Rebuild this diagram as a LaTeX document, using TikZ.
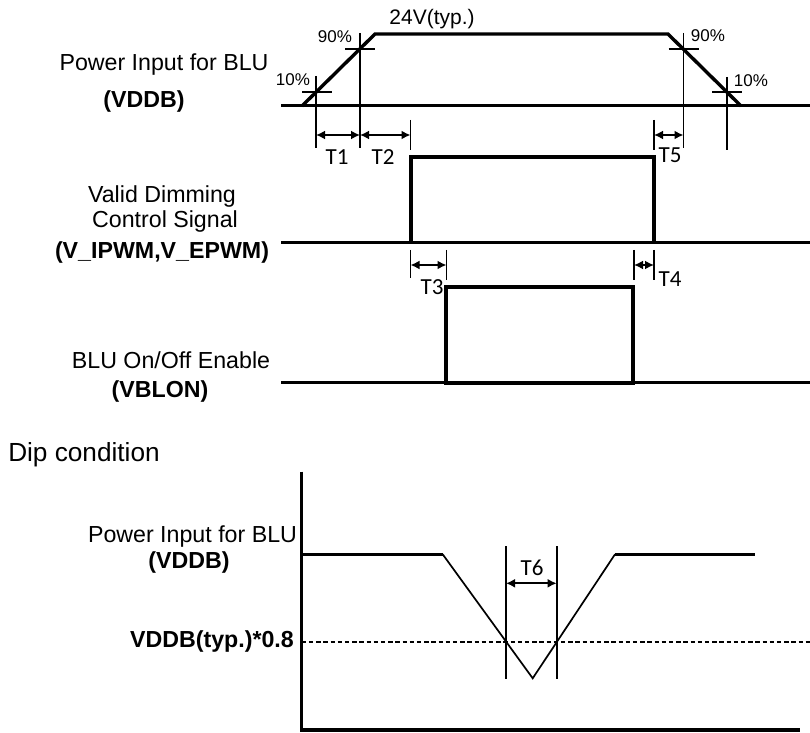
\documentclass[tikz,border=0pt]{standalone}
\usepackage{fontspec}
\setmainfont{Liberation Sans}
\newfontfamily\tfont{Carlito}
\usetikzlibrary{arrows.meta}
\begin{document}
\begin{tikzpicture}[x=0.5pt,y=-0.5pt,
  sig/.style={line width=1.5pt},
  pulse/.style={line width=2pt},
  thin/.style={line width=0.85pt},
  dimarrow/.style={line width=1.1pt,{Latex[length=4.5pt,width=4.5pt]}-{Latex[length=4.5pt,width=4.5pt]}},
  lab/.style={inner sep=0pt,font=\fontsize{11.6}{13}\selectfont},
  blab/.style={inner sep=0pt,font=\fontsize{11.6}{13}\selectfont\bfseries},
  pct/.style={inner sep=0pt,font=\fontsize{8.5}{10}\selectfont},
  tlab/.style={inner sep=0pt,font=\tfont\fontsize{11.5}{13}\selectfont}]
\useasboundingbox (0,0) rectangle (810,733);

% ---------- Power input (VDDB) ----------
\coordinate (pA) at (281,106);
\coordinate (pB) at (810,106);
\coordinate (pR0) at (302,106);
\coordinate (pR1) at (375,34);
\coordinate (pF0) at (668,34);
\coordinate (pF1) at (741,106);
\draw[sig] (pA) -- (pB);
\draw[line width=1.7pt] (pR0) -- (pR1) -- (pF0) -- (pF1);

% crosses
\draw[thin] (302,92) -- (332,92);
\draw[thin] (316,76) -- (316,148);
\draw[thin] (345,49) -- (375,49);
\draw[thin] (360,33) -- (360,148);
\draw[thin] (668.5,49) -- (698.5,49);
\draw[thin] (683.5,33) -- (683.5,148);
\draw[thin] (712,92) -- (742,92);
\draw[thin] (727,77) -- (727,150);
\draw[thin] (410.5,120) -- (410.5,150);
\draw[thin] (654,120) -- (654,150);

\coordinate (d1a) at (316,135);
\coordinate (d1b) at (360,135);
\coordinate (d2b) at (410.5,135);
\coordinate (d5a) at (654,135);
\coordinate (d5b) at (683.5,135);
\draw[dimarrow] (d1a) -- (d1b);
\draw[dimarrow] (d1b) -- (d2b);
\draw[dimarrow] (d5a) -- (d5b);

\node[pct] (p10a) at (293,80) {10\%};
\node[pct] (p90a) at (335,37) {90\%};
\node[pct] (p90b) at (708,36) {90\%};
\node[pct] (p10b) at (751,81) {10\%};
\node[inner sep=0pt,font=\fontsize{10.5}{12}\selectfont] (typ) at (432,19) {24V(typ.)};
\node[tlab] (t1) at (337,157) {T1};
\node[tlab] (t2) at (383,157) {T2};
\node[tlab] (t5) at (670,155) {T5};

\node[lab] (l1) at (164,65) {Power Input for BLU};
\node[blab] (l1b) at (144,101.5) {(VDDB)};

% ---------- Dimming signal ----------
\coordinate (dA) at (281,243);
\coordinate (dB) at (810,243);
\draw[sig] (dA) -- (dB);
\coordinate (dp0) at (410.5,243);
\coordinate (dp1) at (410.5,157.5);
\coordinate (dp2) at (654,157.5);
\coordinate (dp3) at (654,243);
\draw[pulse] (dp0) -- (dp1) -- (dp2) -- (dp3);

\draw[thin] (410.5,250) -- (410.5,278);
\draw[thin] (446.5,250) -- (446.5,280);
\draw[thin] (634,250) -- (634,280);
\draw[thin] (654,250) -- (654,280);
\coordinate (d3a) at (410.5,265);
\coordinate (d3b) at (446.5,265);
\coordinate (d4a) at (634,265);
\coordinate (d4b) at (654,265);
\draw[dimarrow] (d3a) -- (d3b);
\draw[dimarrow] (d4a) -- (d4b);
\node[tlab] (t3) at (432,287) {T3};
\node[tlab] (t4) at (670,279) {T4};

\node[lab] (l2a) at (162,197) {Valid Dimming};
\node[lab] (l2b) at (165,222) {Control Signal};
\node[blab] (l2c) at (162,253) {(V\_IPWM,V\_EPWM)};

% ---------- BLU enable ----------
\coordinate (eA) at (281,382.5);
\coordinate (eB) at (810,382.5);
\draw[sig] (eA) -- (eB);
\draw[pulse] (446,287.5) rectangle (632.5,382.5);
\node[lab] (l3a) at (171,360) {BLU On/Off Enable};
\node[blab] (l3b) at (160,391.5) {(VBLON)};

% ---------- Dip condition ----------
\node[inner sep=0pt,font=\fontsize{13.1}{15}\selectfont] (dip) at (84,455) {Dip condition};
\coordinate (ax0) at (301.7,471.7);
\coordinate (ax1) at (301.7,730);
\coordinate (ax2) at (800,730);
\draw[line width=1.7pt] (ax0) -- (ax1) -- (ax2);
\coordinate (q0) at (301.7,554.3);
\coordinate (q1) at (442.7,554.3);
\coordinate (q2) at (532.7,678.3);
\coordinate (q3) at (615,554.3);
\coordinate (q4) at (755,554.3);
\draw[sig] (q0) -- (q1);
\draw[thin] (q1) -- (q2) -- (q3);
\draw[sig] (q3) -- (q4);
\coordinate (dl0) at (301.7,642.3);
\coordinate (dl1) at (810,642.3);
\draw[line width=1pt,dash pattern=on 2.2pt off 1.4pt] (dl0) -- (dl1);
\draw[line width=1pt] (506,546) -- (506,679.3);
\draw[line width=1pt] (556.7,546) -- (556.7,679.3);
\coordinate (d6a) at (506,583.3);
\coordinate (d6b) at (556.7,583.3);
\draw[dimarrow] (d6a) -- (d6b);
\node[tlab] (t6) at (532,568) {T6};

\node[lab] (l4a) at (192.5,537) {Power Input for BLU};
\node[blab] (l4b) at (189,563) {(VDDB)};
\node[blab] (l4c) at (212,641) {VDDB(typ.)*0.8};
\end{tikzpicture}
\end{document}
